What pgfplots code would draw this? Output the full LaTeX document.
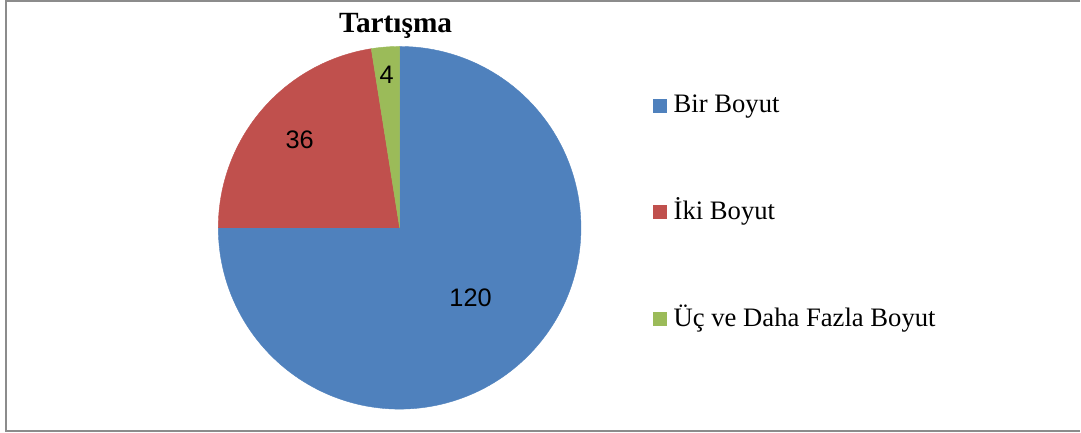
\documentclass[border=0pt]{standalone}
\usepackage{pgfplots}
\pgfplotsset{compat=1.18}
\usepackage{fontspec}
\setmainfont{Liberation Serif}
\newfontfamily\arialf{Liberation Sans}
\definecolor{cblue}{HTML}{4F81BD}
\definecolor{cred}{HTML}{C0504D}
\definecolor{cgreen}{HTML}{9BBB59}
\definecolor{cframe}{HTML}{8C8C8C}
% data
\def\vA{120}
\def\vB{36}
\def\vC{4}
\pgfmathsetmacro\tot{\vA+\vB+\vC}
\pgfmathsetmacro\aA{90-\vA/\tot*360}
\pgfmathsetmacro\aB{\aA-\vB/\tot*360}
\pgfmathsetmacro\aC{\aB-\vC/\tot*360}
\def\cx{400}
\def\cy{205}
\def\rr{181.5}
\begin{document}
\begin{tikzpicture}
\begin{axis}[
  width=810.75pt, height=324.75pt, scale only axis,
  xmin=0, xmax=1081, ymin=0, ymax=433,
  hide axis, clip=false,
]
\fill[white] (axis cs:0,0) rectangle (axis cs:1081,433);
\addplot[fill=cblue, draw=cblue, line width=0.3pt, domain=90:\aA, samples=150, variable=\t]
  ({\cx+\rr*cos(t)},{\cy+\rr*sin(t)}) -- (axis cs:\cx,\cy) -- cycle;
\addplot[fill=cred, draw=cred, line width=0.3pt, domain=\aA:\aB, samples=60, variable=\t]
  ({\cx+\rr*cos(t)},{\cy+\rr*sin(t)}) -- (axis cs:\cx,\cy) -- cycle;
\addplot[fill=cgreen, draw=cgreen, line width=0.3pt, domain=\aB:\aC, samples=10, variable=\t]
  ({\cx+\rr*cos(t)},{\cy+\rr*sin(t)}) -- (axis cs:\cx,\cy) -- cycle;
% data labels
\node[font=\arialf\fontsize{19pt}{22pt}\selectfont] at (axis cs:471,135) {120};
\node[font=\arialf\fontsize{19pt}{22pt}\selectfont] at (axis cs:300,293) {36};
\node[font=\arialf\fontsize{19pt}{22pt}\selectfont] at (axis cs:387,358) {4};
% title
\node[anchor=base, font=\bfseries\fontsize{22pt}{26pt}\selectfont] at (axis cs:396,400) {Tartışma};
% legend
\fill[cblue] (axis cs:654,320) rectangle (axis cs:668,334);
\node[anchor=base west, inner sep=0pt, font=\fontsize{20pt}{24pt}\selectfont] at (axis cs:674,320) {Bir Boyut};
\fill[cred] (axis cs:654,214) rectangle (axis cs:668,228);
\node[anchor=base west, inner sep=0pt, font=\fontsize{20pt}{24pt}\selectfont] at (axis cs:674,213) {İki Boyut};
\fill[cgreen] (axis cs:654,107) rectangle (axis cs:668,121);
\node[anchor=base west, inner sep=0pt, font=\fontsize{20pt}{24pt}\selectfont] at (axis cs:674,106) {Üç ve Daha Fazla Boyut};
% frame
\draw[cframe, line width=1.5pt] (axis cs:1081,431.5) -- (axis cs:6,431.5) -- (axis cs:6,2) -- (axis cs:1081,2);
\end{axis}
\end{tikzpicture}
\end{document}
